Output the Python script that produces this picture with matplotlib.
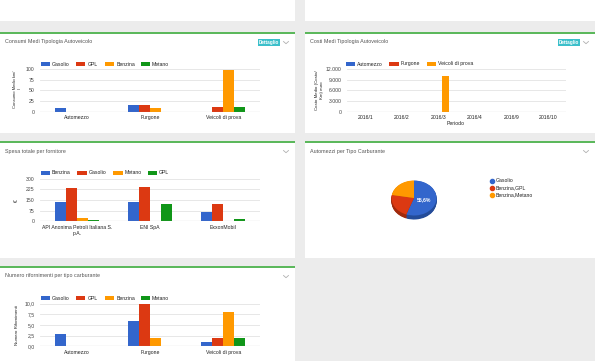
import numpy as np
import matplotlib
matplotlib.use('Agg')
import matplotlib.pyplot as plt
from matplotlib.patches import Rectangle
from matplotlib.lines import Line2D
from matplotlib.ticker import FuncFormatter

plt.rcParams['font.family'] = ['Liberation Sans', 'DejaVu Sans']

# --- dati ---
tipologie = ['Automezzo', 'Furgone', 'Veicoli di prova']
carburanti = ['Gasolio', 'GPL', 'Benzina', 'Metano']

consumi_gasolio = [9, 16, 0]
consumi_gpl = [0, 16, 12]
consumi_benzina = [0, 9, 97]
consumi_metano = [0, 0, 12]

periodi = ['2016/1', '2016/2', '2016/3', '2016/4', '2016/9', '2016/10']
serie_costi = ['Automezzo', 'Furgone', 'Veicoli di prova']
costi_automezzo = [0, 0, 0, 0, 0, 0]
costi_furgone = [0, 80, 0, 0, 0, 0]
costi_veicoli = [0, 0, 10100, 0, 0, 0]

fornitori = ['API Anonima Petroli Italiana S.\np.A.', 'ENI SpA', 'ExxonMobil']
serie_spesa = ['Benzina', 'Gasolio', 'Metano', 'GPL']
spesa_benzina = [136, 136, 68]
spesa_gasolio = [232, 239, 124]
spesa_metano = [21, 0, 0]
spesa_gpl = [10, 120, 14]

tipi_carburante = ['Gasolio', 'Benzina,GPL', 'Benzina,Metano']
automezzi_per_tipo = [5, 2, 2]

rif_gasolio = [3, 6, 1]
rif_gpl = [0, 10, 2]
rif_benzina = [0, 2, 8]
rif_metano = [0, 0, 2]

BLU, ROSSO, ARANCIO, VERDE = '#3366cc', '#dc3912', '#ff9900', '#109618'
FS = 3.7  # testo dei grafici

W, H = 595, 361
fig = plt.figure(figsize=(W / 100, H / 100), dpi=100)
fig.patch.set_facecolor('#ececec')


def fx(x):
    return x / W


def fy(y):
    return 1 - y / H


def rect(x0, y0, x1, y1, color, z=-10):
    fig.add_artist(Rectangle((fx(x0), fy(y1)), (x1 - x0) / W, (y1 - y0) / H,
                             transform=fig.transFigure, color=color, lw=0, zorder=z))


def ftext(x, y, s, **kw):
    return fig.text(fx(x), fy(y), s, **kw)


def chevron(x, y):
    fig.add_artist(Line2D([fx(x - 2.5), fx(x), fx(x + 2.5)], [fy(y - 1), fy(y + 1.2), fy(y - 1)],
                          transform=fig.transFigure, color='#b0b0b0', lw=0.6))


def panel(x0, y0, x1, y1, titolo, dettaglio=False):
    rect(x0, y0, x1, y1, 'white', z=-20)
    rect(x0, y0, x1, y0 + 1.6, '#5cb85c')
    ftext(x0 + 5, y0 + 10, titolo, fontsize=3.9, color='#555555', va='center')
    chevron(x1 - 9, y0 + 10.5)
    if dettaglio:
        rect(x1 - 37, y0 + 7, x1 - 15, y0 + 14, '#3bbfca')
        ftext(x1 - 26, y0 + 10.6, 'Dettaglio', fontsize=3.3, color='white',
              ha='center', va='center', fontweight='bold')


def legenda(nomi, colori, xs, y):
    for nome, c, x in zip(nomi, colori, xs):
        rect(x, y - 2.3, x + 9.3, y + 2.3, c)
        ftext(x + 11.3, y, nome, fontsize=FS, color='#222222', va='center')


def add_ax(x0, y0, x1, y1):
    return fig.add_axes([fx(x0), fy(y1), (x1 - x0) / W, (y1 - y0) / H])


def bar_chart(ax, cats, series, colors, ymax, yticks, fmt, bw):
    n = len(series)
    x = np.arange(len(cats))
    for i, (vals, c) in enumerate(zip(series, colors)):
        vals = np.array(vals, dtype=float)
        off = (i - (n - 1) / 2) * bw
        m = vals > 0
        ax.bar(x[m] + off, vals[m], bw, color=c, lw=0, zorder=3)
    ax.set_xlim(-0.5, len(cats) - 0.5)
    ax.set_ylim(0, ymax)
    ax.set_yticks(yticks)
    ax.yaxis.set_major_formatter(FuncFormatter(fmt))
    ax.set_xticks(x, cats)
    ax.grid(axis='y', color='#e3e3e3', lw=0.6, zorder=0)
    ax.axhline(0, color='#999999', lw=0.8, zorder=4)
    for s in ax.spines.values():
        s.set_visible(False)
    ax.tick_params(axis='y', length=0, labelsize=FS, pad=4, labelcolor='#444444')
    ax.tick_params(axis='x', length=0, labelsize=FS, pad=2.5, labelcolor='#222222')
    ax.set_facecolor('none')


# pannelli superiori vuoti
rect(0, 0, 295, 21, 'white', z=-20)
rect(305, 0, 595, 21, 'white', z=-20)

# --- Consumi Medi ---
panel(0, 32, 295, 133, 'Consumi Medi Tipologia Autoveicolo', dettaglio=True)
legenda(carburanti, [BLU, ROSSO, ARANCIO, VERDE], [40.7, 76, 105, 140.7], 64)
ax1 = add_ax(40, 69, 260, 112)
bar_chart(ax1, tipologie, [consumi_gasolio, consumi_gpl, consumi_benzina, consumi_metano],
          [BLU, ROSSO, ARANCIO, VERDE], 100, [0, 25, 50, 75, 100],
          lambda v, p: f'{v:.0f}', 0.15)
ftext(17.5, 89, 'Consumo Medio km/\nl', fontsize=3.0, rotation=90, ha='center',
      va='center', color='#222222', multialignment='center')

# --- Costi Medi ---
panel(305, 32, 595, 133, 'Costi Medi Tipologia Autoveicolo', dettaglio=True)
legenda(serie_costi, [BLU, ROSSO, ARANCIO], [346, 389.3, 426.7], 64)
ax2 = add_ax(347, 69, 566, 112)
bar_chart(ax2, periodi, [costi_automezzo, costi_furgone, costi_veicoli],
          [BLU, ROSSO, ARANCIO], 12000, [0, 3000, 6000, 9000, 12000],
          lambda v, p: f'{v:,.0f}'.replace(',', '.'), 0.2)
ftext(456, 123.5, 'Periodo', fontsize=FS, ha='center', va='center', color='#222222')
ftext(319.5, 90, 'Costo Medio (Costo/\nKm) euro', fontsize=3.2, rotation=90, ha='center',
      va='center', color='#222222', multialignment='center')

# --- Spesa totale per fornitore ---
panel(0, 141, 295, 258, 'Spesa totale per fornitore')
legenda(serie_spesa, [BLU, ROSSO, ARANCIO, VERDE], [40.7, 77.3, 113.3, 147.7], 173)
ax3 = add_ax(40, 178.7, 260, 221.3)
bar_chart(ax3, fornitori, [spesa_benzina, spesa_gasolio, spesa_metano, spesa_gpl],
          [BLU, ROSSO, ARANCIO, VERDE], 300, [0, 75, 150, 225, 300],
          lambda v, p: f'{v:.0f}', 0.15)
ftext(16, 200.5, '€', fontsize=FS, rotation=90, ha='center', va='center', color='#222222')

# --- Automezzi per Tipo Carburante (torta 3D) ---
panel(305, 141, 595, 258, 'Automezzi per Tipo Carburante')
ax4 = add_ax(384, 168, 444, 228)
colori_torta = [BLU, ROSSO, ARANCIO]
colori_lato = ['#244c99', '#a02a0d', '#c27400']
for k in np.linspace(0.23, 0.02, 8):
    ax4.pie(automezzi_per_tipo, colors=colori_lato, center=(0, -k), startangle=90,
            counterclock=False, wedgeprops=dict(lw=0))
ax4.pie(automezzi_per_tipo, colors=colori_torta, startangle=90, counterclock=False,
        wedgeprops=dict(lw=0),
        autopct=lambda p: f'{p:.1f}%'.replace('.', ',') if p > 50 else '',
        pctdistance=0.45, textprops=dict(color='white', fontsize=FS, fontweight='bold'))
ax4.set_aspect('auto')
ax4.set_xlim(-1.333, 1.333)
ax4.set_ylim(-1.714, 1.714)
ax4.axis('off')
for nome, c, y in zip(tipi_carburante, colori_torta, [181, 188, 195]):
    fig.add_artist(Line2D([fx(492)], [fy(y)], marker='o', ms=3.0, color=c, lw=0,
                          transform=fig.transFigure))
    ftext(496, y, nome, fontsize=FS, color='#222222', va='center')

# --- Numero rifornimenti ---
panel(0, 266, 295, 365, 'Numero rifornimenti per tipo carburante')
legenda(carburanti, [BLU, ROSSO, ARANCIO, VERDE], [40.7, 76, 105, 140.7], 298)
ax5 = add_ax(40, 303.7, 260, 346.3)
bar_chart(ax5, tipologie, [rif_gasolio, rif_gpl, rif_benzina, rif_metano],
          [BLU, ROSSO, ARANCIO, VERDE], 10, [0, 2.5, 5, 7.5, 10],
          lambda v, p: f'{v:.1f}'.replace('.', ','), 0.15)
ftext(17.3, 325, 'Numero Rifornimenti', fontsize=3.2, rotation=90, ha='center',
      va='center', color='#222222')

fig.savefig('out.png', dpi=100, facecolor=fig.get_facecolor())
